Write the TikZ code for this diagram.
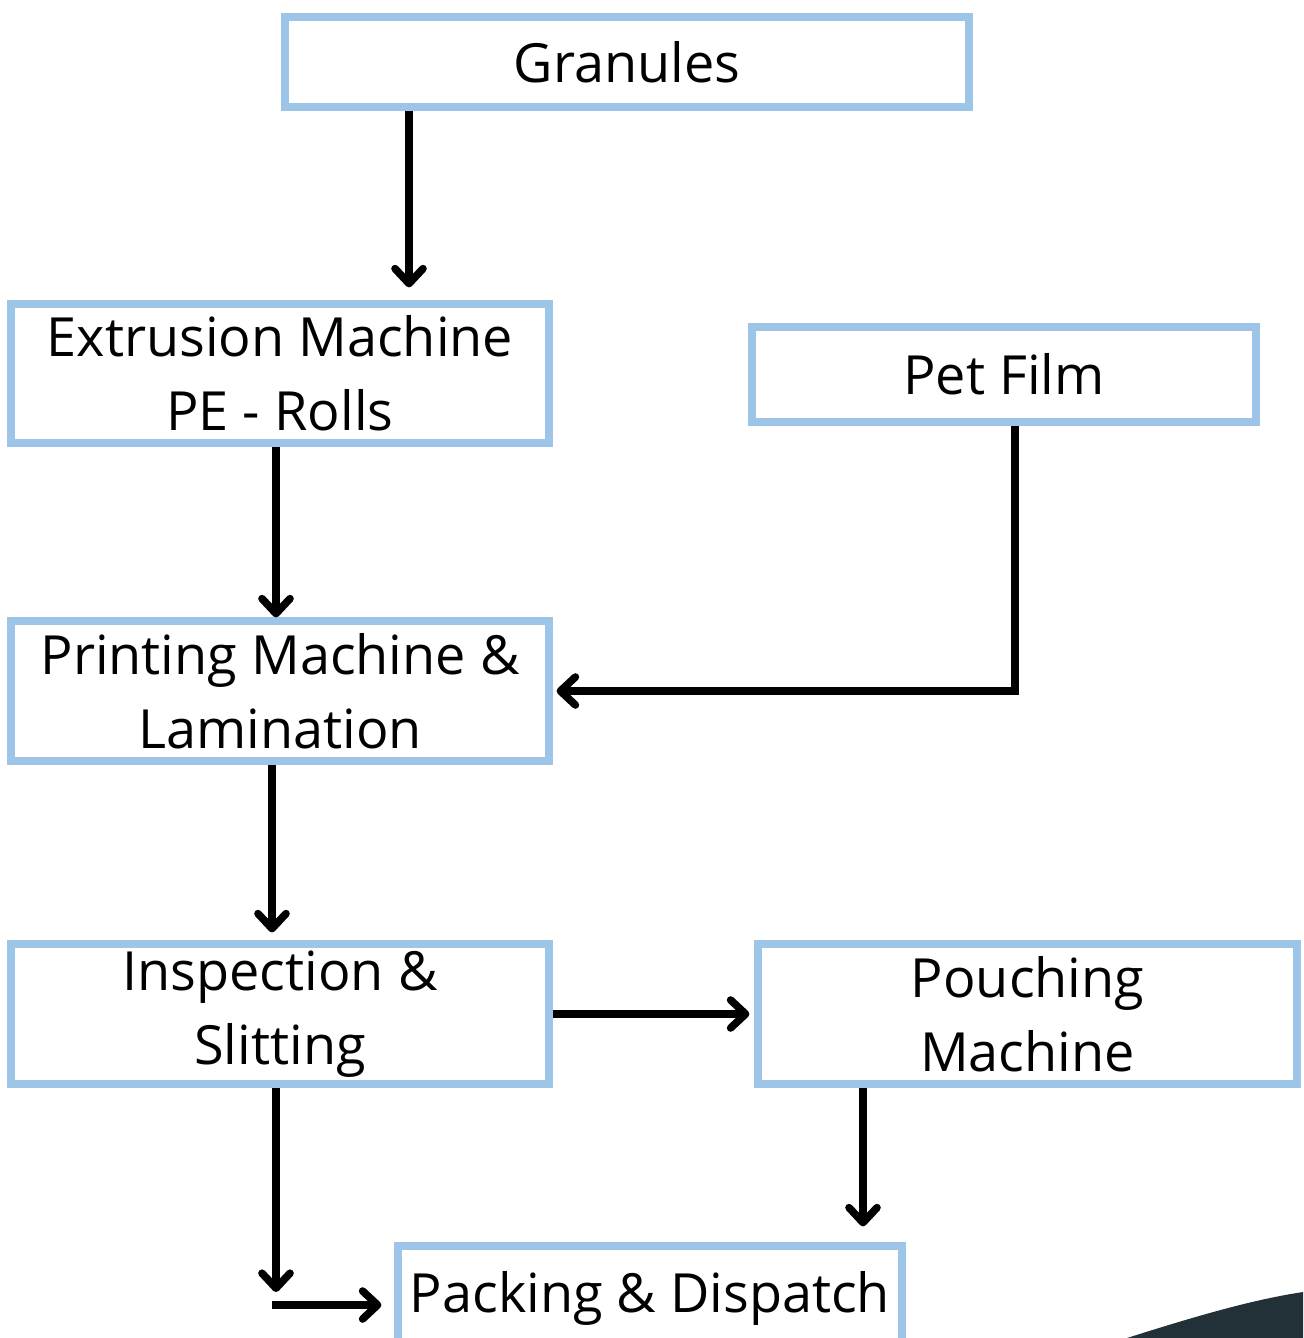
\documentclass[tikz,border=0pt]{standalone}
\usepackage{fontspec}
\setmainfont{Open Sans}
\usetikzlibrary{arrows.meta}
\definecolor{boxblue}{HTML}{9DC5E8}
\definecolor{darkc}{HTML}{213137}
\tikzset{
  x=0.5pt, y=-0.5pt,
  box/.style={draw=boxblue, line width=3.6pt, fill=white, align=center,
    font=\fontsize{27}{37}\selectfont, inner sep=0pt},
  arr/.style={line width=3.8pt, line join=miter,
    -{Straight Barb[length=7.5pt,width=14pt,line cap=round,line join=round]}},
}
\begin{document}
\begin{tikzpicture}
\useasboundingbox (0,0) rectangle (1303,1338);
\node[box, minimum width=342pt, minimum height=45pt] (gran) at (627,62) {Granules};
\node[box, minimum width=269pt, minimum height=69.5pt] (extr) at (280,373.5) {Extrusion Machine\\PE - Rolls};
\node[box, minimum width=252pt, minimum height=47.5pt] (pet) at (1004,374.5) {Pet Film};
\node[box, minimum width=269pt, minimum height=70pt] (print) at (280,691) {Printing Machine \&\\Lamination};
\node[box, minimum width=269pt, minimum height=70pt] (insp) at (280,1014) {Inspection \&\\Slitting};
\node[box, minimum width=269.5pt, minimum height=70pt] (pouch) at (1027.5,1014) {Pouching\\Machine};
\node[box, minimum width=252pt, minimum height=52pt] (pack) at (650,1298) {Packing \& Dispatch};
\coordinate (c7) at (276,1292);
\coordinate (c8) at (272,1305);
\draw[arr, shorten >=6.5pt] ([xshift=-109pt]gran.south) -- ([xshift=-109pt]gran.south |- extr.north);
\draw[arr, shorten >=0pt] ([xshift=-2pt]extr.south) -- ([xshift=-2pt]extr.south |- print.north);
\draw[arr, shorten >=2pt] ([xshift=5.5pt]pet.south) |- (print.east);
\draw[arr, shorten >=4pt] ([xshift=-4pt]print.south) -- ([xshift=-4pt]print.south |- insp.north);
\draw[arr, shorten >=2.5pt] (insp.east) -- (pouch.west);
\draw[arr, shorten >=8pt] ([xshift=-82.25pt]pouch.south) -- ([xshift=-82.25pt]pouch.south |- pack.north);
\draw[arr] ([xshift=-2pt]insp.south) -- (c7);
\draw[arr, shorten >=6.5pt] (c8) -- (c8 -| pack.west);
\fill[darkc] (1127,1338) .. controls (1190,1318) and (1250,1300) .. (1303,1292) -- (1303,1338) -- cycle;
\end{tikzpicture}
\end{document}
